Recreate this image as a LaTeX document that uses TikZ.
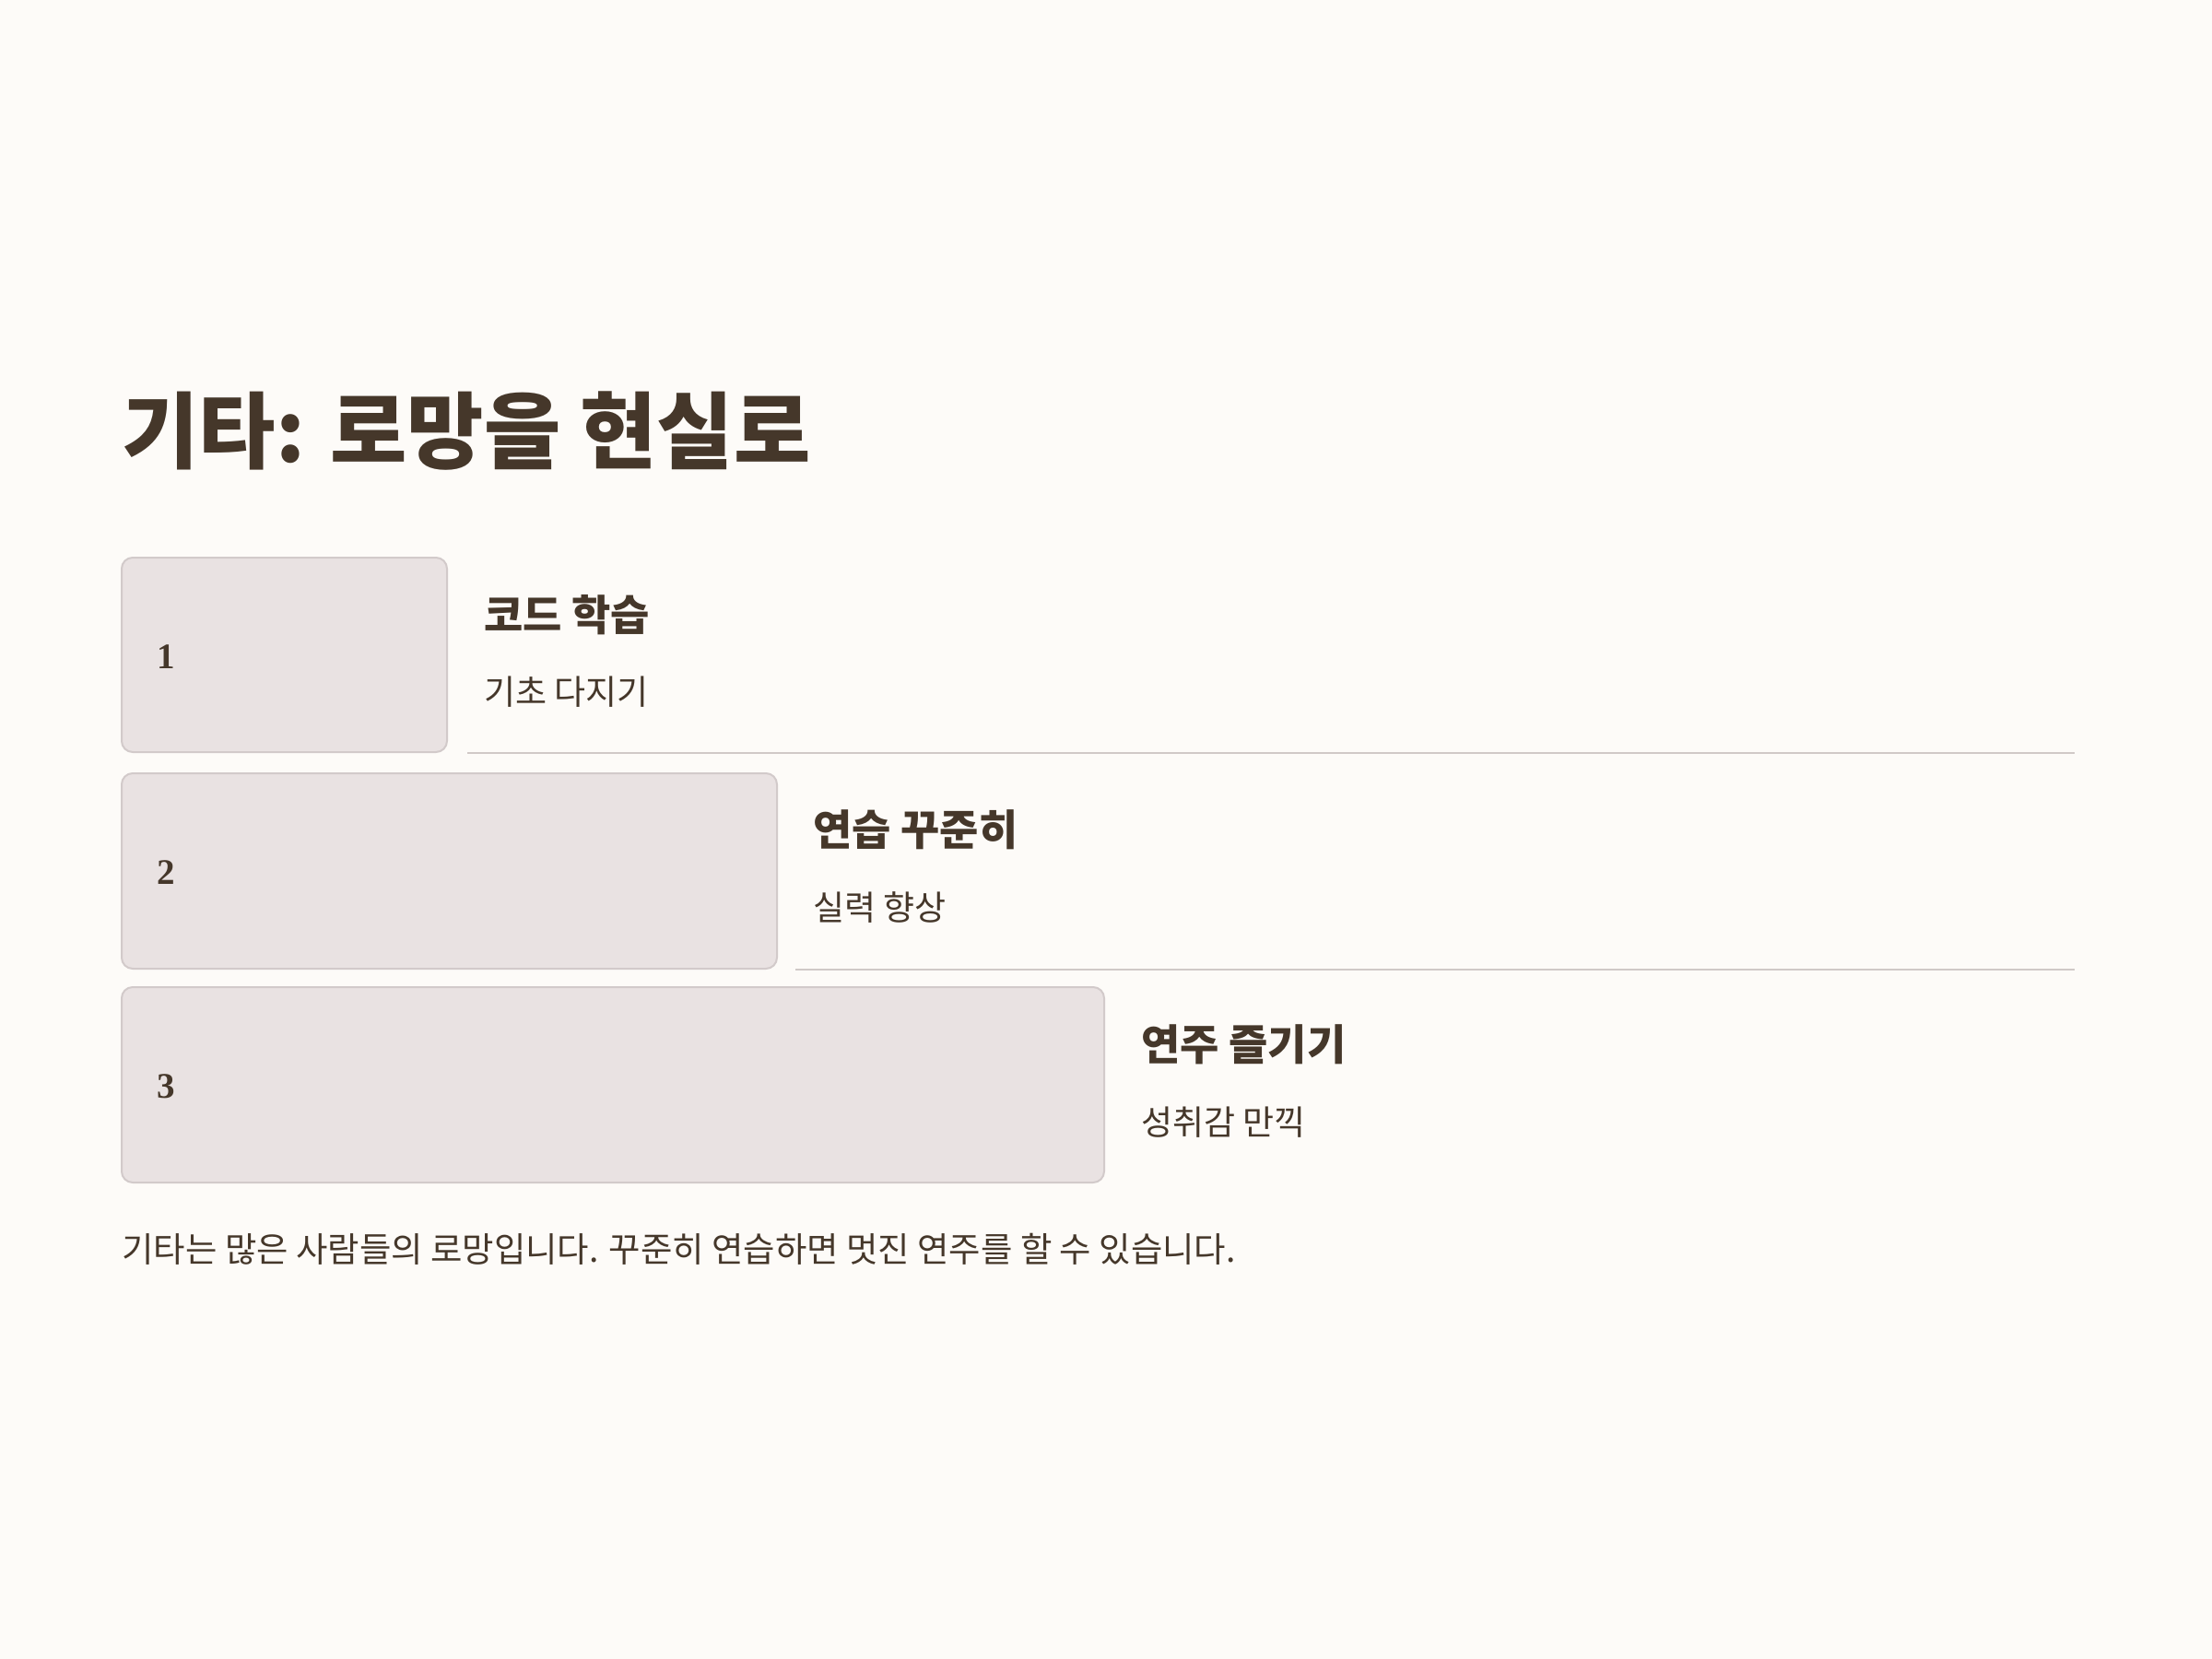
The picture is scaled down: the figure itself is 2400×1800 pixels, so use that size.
\documentclass[tikz,border=0pt]{standalone}
\usepackage{fontspec}
\setmainfont{Liberation Serif}
\newfontfamily\kr{Noto Sans CJK KR}
\definecolor{bg}{HTML}{FDFBF8}
\definecolor{boxfill}{HTML}{E9E2E2}
\definecolor{boxline}{HTML}{D2CACA}
\definecolor{ink}{HTML}{45372A}
\definecolor{rule}{HTML}{D0C9C7}
\tikzset{
  stepbox/.style={draw=boxline, fill=boxfill, line width=1pt, rounded corners=6pt},
  titletext/.style={anchor=base west, inner sep=0pt, text=ink, font=\kr\bfseries\fontsize{45.3}{50}\selectfont},
  headtext/.style={anchor=base west, inner sep=0pt, text=ink, font=\kr\bfseries\fontsize{23}{27}\selectfont},
  subtext/.style={anchor=base west, inner sep=0pt, text=ink, font=\kr\fontsize{18.5}{22}\selectfont},
  foottext/.style={anchor=base west, inner sep=0pt, text=ink, font=\kr\fontsize{18.7}{22}\selectfont},
  numtext/.style={anchor=base west, inner sep=0pt, text=ink, font=\bfseries\fontsize{19.5}{22}\selectfont},
  seprule/.style={draw=rule, line width=1pt},
}
\begin{document}
\begin{tikzpicture}[x=0.5pt, y=-0.5pt]
\fill[bg] (0,0) rectangle (2400,1800);
\useasboundingbox (0,0) rectangle (2400,1800);
% title
\node[titletext] (title) at (132,501) {기타: 로망을 현실로};
% boxes
\draw[stepbox] (132,605) rectangle (485,816);
\draw[stepbox] (132,839) rectangle (843,1051);
\draw[stepbox] (132,1071) rectangle (1198,1283);
\node[numtext] (n1) at (170,725) {1};
\node[numtext] (n2) at (170,959) {2};
\node[numtext] (n3) at (170,1191) {3};
% item 1
\node[headtext] (h1) at (525,684) {코드 학습};
\node[subtext] (s1) at (525,764) {기초 다지기};
\draw[seprule] (507,817) -- (2251,817);
% item 2
\node[headtext] (h2) at (882,917) {연습 꾸준히};
\node[subtext] (s2) at (882,998) {실력 향상};
\draw[seprule] (863,1052) -- (2251,1052);
% item 3
\node[headtext] (h3) at (1238,1150) {연주 즐기기};
\node[subtext] (s3) at (1238,1231) {성취감 만끽};
% footer
\node[foottext] (foot) at (132,1369) {기타는 많은 사람들의 로망입니다. 꾸준히 연습하면 멋진 연주를 할 수 있습니다.};
\end{tikzpicture}
\end{document}
